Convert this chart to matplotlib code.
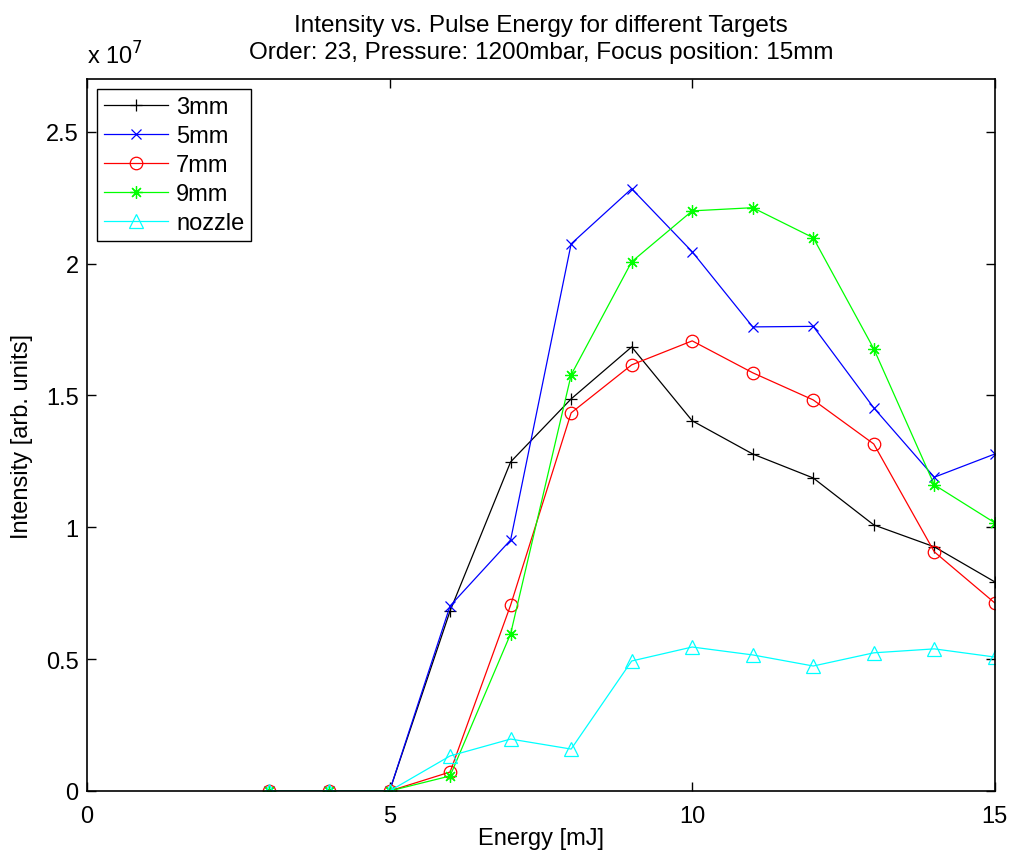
import numpy as np
import matplotlib.pyplot as plt

plt.rcParams['font.family'] = ['Liberation Sans', 'DejaVu Sans']

# Energie [mJ] und Intensitaet (Einheiten 1e7)
energy = [3, 4, 5, 6, 7, 8, 9, 10, 11, 12, 13, 14, 15]
i_3mm = [0, 0, 0, 0.683, 1.248, 1.487, 1.684, 1.404, 1.278, 1.187, 1.009, 0.926, 0.793]
i_5mm = [0, 0, 0, 0.702, 0.952, 2.075, 2.284, 2.045, 1.760, 1.762, 1.453, 1.190, 1.278]
i_7mm = [0, 0, 0, 0.072, 0.705, 1.434, 1.616, 1.707, 1.586, 1.483, 1.316, 0.907, 0.713]
i_9mm = [0, 0, 0, 0.057, 0.596, 1.578, 2.007, 2.200, 2.212, 2.098, 1.677, 1.161, 1.017]
i_nozzle = [0, 0, 0, 0.133, 0.197, 0.159, 0.493, 0.546, 0.516, 0.474, 0.524, 0.539, 0.508]

fig = plt.figure(figsize=(10.11, 8.54), dpi=100)
ax = fig.add_axes([0.086, 0.0726, 0.898, 0.8337])

asterisk = (8, 2, 0)
ax.plot(energy, i_3mm, 'k-+', lw=0.9, ms=9, mew=0.9, label='3mm')
ax.plot(energy, i_5mm, 'b-x', lw=0.9, ms=7, mew=0.9, label='5mm')
ax.plot(energy, i_7mm, 'r-o', lw=0.9, ms=9, mew=0.9, mfc='none', label='7mm')
ax.plot(energy, i_9mm, '-', marker=asterisk, color='#00ff00', lw=0.9, ms=9, mew=0.9, label='9mm')
ax.plot(energy, i_nozzle, '-^', color='#00ffff', lw=0.9, ms=10, mew=0.9, mfc='none', label='nozzle')

ax.set_xlim(0, 15)
ax.set_ylim(0, 2.7)
ax.set_xticks([0, 5, 10, 15])
ax.set_yticks([0, 0.5, 1, 1.5, 2, 2.5])
ax.set_yticklabels(['0', '0.5', '1', '1.5', '2', '2.5'])
ax.tick_params(direction='in', top=True, right=True, length=6.5, width=1, labelsize=17)
ax.tick_params(axis='x', pad=10)
ax.tick_params(axis='y', pad=6)
for s in ax.spines.values():
    s.set_linewidth(1.2)

ax.text(0, 1.014, r'x 10$^{7}$', transform=ax.transAxes, fontsize=17, ha='left', va='bottom')

ax.set_title('Intensity vs. Pulse Energy for different Targets\n'
             'Order: 23, Pressure: 1200mbar, Focus position: 15mm',
             fontsize=17.5, pad=15, linespacing=1.3)
ax.set_xlabel('Energy [mJ]', fontsize=17, labelpad=0)
ax.set_ylabel('Intensity [arb. units]', fontsize=17, labelpad=9)

leg = ax.legend(loc='upper left', fontsize=17, fancybox=False, edgecolor='black',
                framealpha=1, borderaxespad=0.42, handlelength=2.7, labelspacing=0.3,
                borderpad=0.3, handletextpad=0.35)
leg.get_frame().set_linewidth(1)

plt.savefig('out.png', dpi=100)
